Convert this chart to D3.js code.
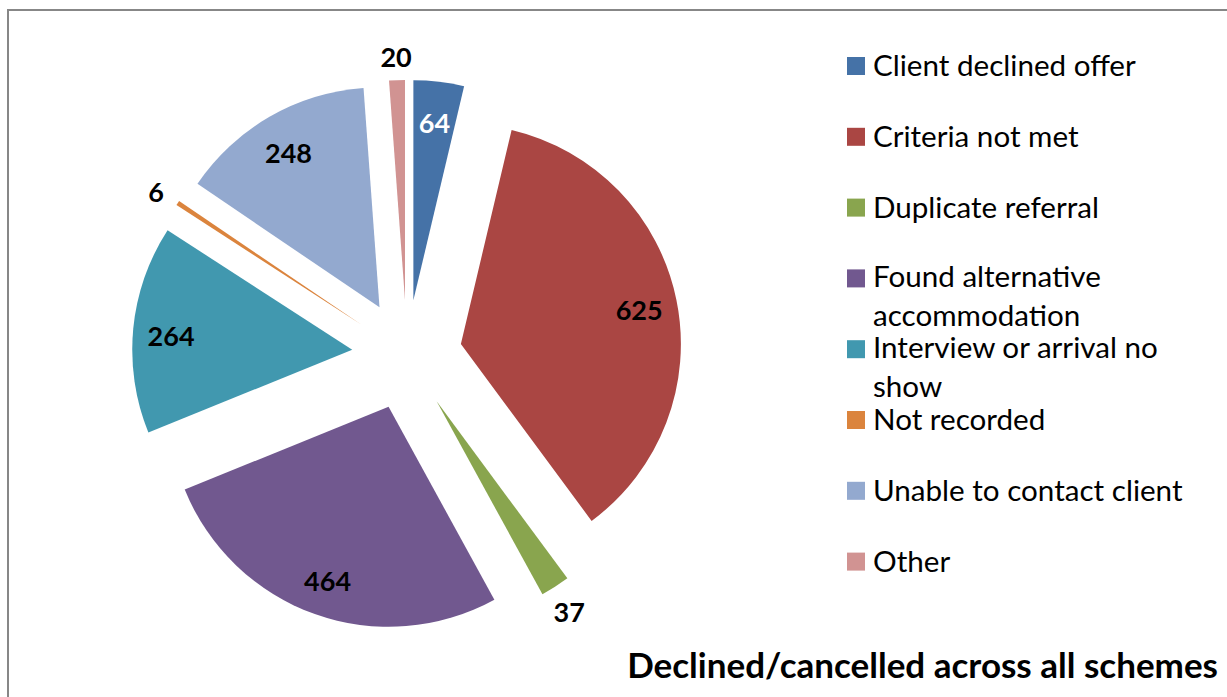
<!DOCTYPE html>
<html>
<head>
<meta charset="utf-8">
<script src="https://cdn.jsdelivr.net/npm/d3@7"></script>
<style>
  html, body { margin: 0; padding: 0; background: #fff; }
  svg { display: block; font-family: Lato, "Open Sans", sans-serif; }
</style>
</head>
<body>
<div id="chart"></div>
<script>
// data
const categories = [
  'Client declined offer',
  'Criteria not met',
  'Duplicate referral',
  'Found alternative accommodation',
  'Interview or arrival no show',
  'Not recorded',
  'Unable to contact client',
  'Other'
];
const values = [64, 625, 37, 464, 264, 6, 248, 20];
const colors = ['#4572A7', '#AA4643', '#89A54E', '#71588F', '#4198AF', '#DB843D', '#93A9CF', '#D19392'];
const title = 'Declined/cancelled across all schemes';

const w = 1227;
const h = 697;
const cx = 407, cy = 355;
const radius = 220;
const explode = 55;

const data = categories.map((c, i) => ({ name: c, value: values[i], color: colors[i], i: i }));
const total = d3.sum(values);

const svg = d3.select('#chart')
  .append('svg')
  .attr('width', w)
  .attr('height', h);

// chart border (runs off the right and bottom edge)
svg.append('rect')
  .attr('x', 8)
  .attr('y', 10)
  .attr('width', w + 20)
  .attr('height', h + 20)
  .attr('fill', 'none')
  .attr('stroke', '#878787')
  .attr('stroke-width', 2);

const pie = d3.pie()
  .sort(null)
  .value(d => d.value);

const arc = d3.arc()
  .innerRadius(0)
  .outerRadius(radius);

const arcs = pie(data);

const dir = (a) => [Math.sin(a), -Math.cos(a)];

const slices = svg.append('g')
  .attr('transform', 'translate(' + cx + ',' + cy + ')')
  .selectAll('g')
  .data(arcs)
  .enter()
  .append('g')
  .attr('transform', d => {
    const m = dir((d.startAngle + d.endAngle) / 2);
    return 'translate(' + (m[0] * explode) + ',' + (m[1] * explode) + ')';
  });

slices.append('path')
  .attr('d', arc)
  .attr('fill', d => d.data.color);

// small slices get their label outside
const labelR = d => d.data.value / total < 0.03 ? 246 : 182;

slices.append('text')
  .attr('x', d => dir((d.startAngle + d.endAngle) / 2)[0] * labelR(d))
  .attr('y', d => dir((d.startAngle + d.endAngle) / 2)[1] * labelR(d))
  .attr('dy', '0.48em')
  .attr('text-anchor', 'middle')
  .style('font-size', '27px')
  .style('font-weight', 'bold')
  .style('fill', d => d.data.i === 0 ? '#fff' : '#000')
  .text(d => d.data.value);

// legend
const legend = svg.append('g');
const lx = 847, ly = 66, step = 70.8, maxW = 350;

data.forEach((d, i) => {
  const y = ly + i * step;
  legend.append('rect')
    .attr('x', lx)
    .attr('y', y - 9)
    .attr('width', 18)
    .attr('height', 18)
    .attr('fill', d.color);

  const t = legend.append('text')
    .attr('x', lx + 26)
    .attr('y', y + 10)
    .style('font-size', '29.6px')
    .style('fill', '#000');

  // simple word wrap
  const words = d.name.split(' ');
  let line = [];
  let tspan = t.append('tspan').attr('x', lx + 26).attr('dy', 0);
  let lineNo = 0;
  words.forEach(word => {
    line.push(word);
    tspan.text(line.join(' '));
    if (tspan.node().getComputedTextLength() > maxW && line.length > 1) {
      line.pop();
      tspan.text(line.join(' '));
      line = [word];
      lineNo++;
      tspan = t.append('tspan').attr('x', lx + 26).attr('dy', 39).text(word);
    }
  });
  if (lineNo > 0) t.attr('y', y + 9);
});

svg.append('text')
  .attr('x', 1218)
  .attr('y', 678)
  .attr('text-anchor', 'end')
  .style('font-size', '35px')
  .style('font-weight', 'bold')
  .style('fill', '#000')
  .text(title);
</script>
</body>
</html>
